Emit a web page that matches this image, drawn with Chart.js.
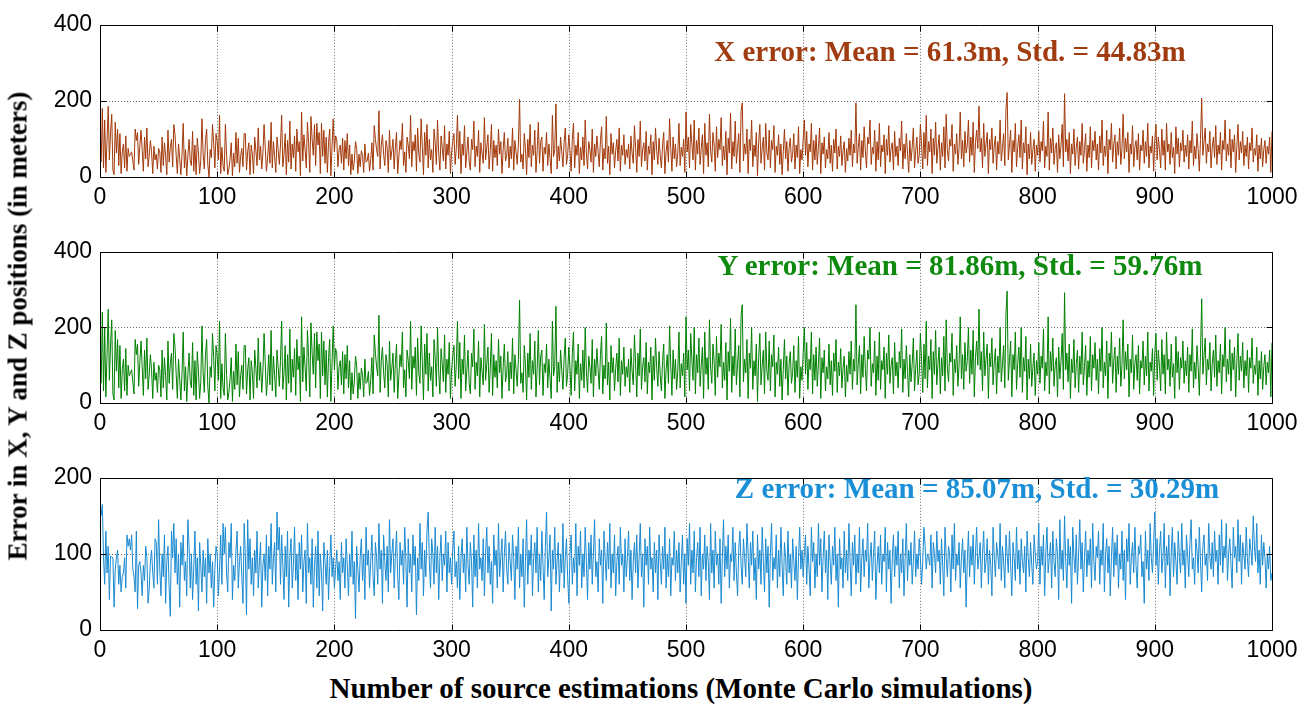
<!DOCTYPE html>
<html>
<head>
<meta charset="utf-8">
<script src="https://cdn.jsdelivr.net/npm/chart.js@4.4.0/dist/chart.umd.min.js"></script>
<style>
    body { margin: 0; background: #fff; }
    #wrap { position: relative; width: 1316px; height: 704px; overflow: hidden; background: #fff; }
    canvas { position: absolute; left: 0; }
    .note { position: absolute; font-family: "Liberation Serif", "Times New Roman", serif; font-weight: bold; font-size: 29px; white-space: nowrap; transform: translate(-50%, -50%); }
    .axis-title { position: absolute; font-family: "Liberation Serif", "Times New Roman", serif; font-weight: bold; white-space: nowrap; color: #000; }
</style>
</head>
<body>
<div id="wrap">
    <canvas id="chartX" width="1316" height="214" style="top:3px"></canvas>
    <canvas id="chartY" width="1316" height="213" style="top:230px"></canvas>
    <canvas id="chartZ" width="1316" height="214" style="top:456px"></canvas>
    <div class="note" style="left:950px; top:51px; color:#a13c10;">X error: Mean = 61.3m, Std. = 44.83m</div>
    <div class="note" style="left:960px; top:265px; color:#0e8a0e;">Y error: Mean = 81.86m, Std. = 59.76m</div>
    <div class="note" style="left:977px; top:488px; color:#1b8fd6;">Z error: Mean = 85.07m, Std. = 30.29m</div>
    <div class="axis-title" style="left:18px; top:326px; font-size:27px; transform: translate(-50%, -50%) rotate(-90deg);">Error in X, Y and Z positions (in meters)</div>
    <div class="axis-title" style="left:681px; top:688px; font-size:29px; transform: translate(-50%, -50%);">Number of source estimations (Monte Carlo simulations)</div>
</div>
<script>
// tick labels //
var xTicks = [0, 100, 200, 300, 400, 500, 600, 700, 800, 900, 1000];
var yTicksXY = [0, 200, 400];
var yTicksZ = [0, 100, 200];

// X error per run (m) //
var xErr = [
    39, 180, 24, 150, 12, 96, 186, 45, 117, 165, 18, 6, 144, 63, 126, 30, 114, 9, 66, 87, 24, 108, 15, 75, 54, 60, 66, 42, 18, 126, 96, 117, 33, 81, 123, 72, 15, 105, 48, 129, 27, 57, 96, 66, 9, 81, 45, 60, 21, 75,
    66, 12, 105, 30, 90, 54, 6, 123, 39, 78, 99, 27, 138, 111, 57, 9, 87, 48, 6, 60, 141, 24, 72, 3, 57, 99, 42, 30, 120, 15, 84, 6, 102, 63, 9, 42, 153, 60, 21, 96, 126, 33, 0, 72, 51, 138, 90, 24, 114, 93,
    45, 162, 9, 78, 30, 15, 138, 57, 6, 21, 48, 90, 3, 63, 27, 117, 36, 102, 12, 54, 75, 27, 114, 114, 18, 66, 90, 6, 84, 60, 9, 105, 69, 30, 129, 45, 81, 21, 63, 138, 78, 15, 51, 96, 36, 144, 24, 93, 54, 12,
    105, 72, 33, 84, 162, 27, 60, 114, 6, 96, 39, 147, 21, 87, 51, 108, 15, 126, 66, 93, 3, 171, 42, 111, 72, 24, 144, 90, 12, 159, 99, 57, 138, 30, 141, 84, 117, 9, 141, 54, 123, 36, 105, 12, 90, 126, 3, 81, 153, 66,
    108, 99, 27, 72, 84, 36, 102, 18, 96, 48, 114, 30, 84, 6, 60, 18, 42, 93, 75, 9, 60, 27, 69, 57, 12, 87, 39, 42, 63, 15, 45, 90, 18, 135, 99, 72, 54, 174, 21, 84, 111, 60, 30, 96, 78, 12, 123, 45, 69, 99,
    21, 78, 117, 9, 54, 96, 72, 141, 30, 66, 12, 105, 84, 48, 162, 27, 93, 69, 111, 15, 129, 60, 39, 153, 81, 6, 117, 57, 138, 24, 99, 45, 72, 12, 126, 90, 33, 150, 63, 18, 108, 78, 42, 135, 21, 87, 57, 120, 9, 66,
    93, 114, 33, 75, 162, 48, 120, 9, 87, 57, 135, 24, 66, 105, 39, 18, 99, 72, 147, 27, 81, 54, 123, 12, 90, 63, 36, 156, 45, 78, 111, 21, 69, 138, 15, 96, 51, 84, 30, 126, 60, 93, 9, 72, 117, 42, 57, 102, 24, 81,
    48, 129, 18, 96, 66, 33, 87, 204, 39, 60, 21, 114, 75, 6, 99, 51, 138, 27, 84, 57, 123, 12, 69, 144, 36, 93, 105, 15, 78, 60, 117, 30, 87, 48, 9, 162, 54, 72, 192, 21, 81, 42, 105, 66, 27, 90, 129, 33, 57, 111,
    69, 15, 99, 141, 24, 84, 57, 117, 9, 78, 45, 105, 30, 150, 63, 21, 93, 72, 39, 126, 12, 87, 54, 108, 66, 27, 96, 132, 18, 75, 48, 159, 36, 81, 6, 114, 60, 90, 24, 69, 99, 42, 129, 15, 84, 57, 111, 33, 72, 51,
    87, 21, 108, 63, 36, 135, 78, 12, 99, 54, 147, 27, 72, 90, 42, 120, 18, 81, 60, 111, 6, 93, 45, 129, 69, 33, 102, 57, 24, 84, 117, 9, 66, 96, 39, 153, 75, 15, 105, 48, 87, 27, 63, 141, 30, 78, 54, 99, 12, 171,
    66, 105, 24, 138, 87, 45, 150, 18, 96, 60, 129, 33, 75, 111, 9, 141, 57, 90, 27, 165, 69, 39, 117, 84, 15, 132, 51, 99, 72, 156, 30, 81, 45, 120, 6, 102, 63, 168, 21, 93, 54, 147, 36, 78, 114, 12, 174, 195, 42, 87,
    60, 126, 9, 99, 69, 150, 27, 84, 54, 117, 3, 90, 138, 36, 75, 105, 18, 141, 63, 45, 123, 24, 96, 72, 135, 12, 81, 57, 111, 33, 87, 6, 66, 126, 48, 93, 15, 78, 102, 39, 60, 114, 21, 84, 51, 132, 9, 72, 45, 99,
    150, 57, 120, 27, 87, 66, 141, 18, 96, 45, 111, 33, 78, 129, 9, 90, 60, 105, 24, 72, 48, 117, 36, 84, 15, 99, 63, 126, 21, 81, 54, 108, 30, 69, 93, 12, 75, 42, 102, 57, 123, 27, 87, 63, 195, 36, 78, 114, 18, 96,
    51, 132, 69, 24, 105, 87, 150, 33, 78, 60, 123, 15, 93, 45, 141, 27, 84, 66, 111, 9, 99, 57, 135, 39, 75, 90, 18, 120, 54, 81, 30, 102, 69, 147, 21, 87, 48, 114, 63, 12, 96, 42, 78, 129, 24, 69, 105, 36, 57, 138,
    84, 21, 117, 48, 162, 30, 93, 66, 126, 9, 102, 57, 144, 36, 78, 111, 18, 90, 54, 132, 24, 165, 69, 42, 99, 81, 138, 15, 87, 60, 114, 33, 75, 171, 48, 96, 27, 120, 63, 84, 150, 39, 105, 57, 144, 12, 90, 123, 75, 186,
    66, 102, 24, 141, 54, 87, 117, 9, 99, 72, 129, 36, 81, 108, 18, 93, 60, 150, 42, 75, 114, 30, 177, 222, 45, 84, 123, 12, 96, 66, 141, 27, 78, 111, 51, 150, 21, 90, 63, 132, 6, 87, 48, 117, 33, 72, 99, 15, 84, 57,
    120, 39, 93, 69, 147, 24, 81, 54, 171, 18, 102, 63, 129, 33, 75, 90, 12, 111, 48, 84, 138, 27, 219, 66, 99, 42, 117, 9, 87, 60, 126, 30, 78, 105, 21, 93, 57, 141, 36, 72, 114, 15, 84, 51, 132, 24, 96, 69, 120, 45,
    87, 18, 108, 63, 150, 30, 81, 54, 123, 9, 99, 72, 141, 39, 84, 111, 21, 93, 57, 129, 33, 75, 165, 48, 102, 66, 117, 12, 87, 60, 135, 27, 78, 96, 45, 114, 18, 84, 69, 123, 36, 93, 54, 141, 24, 81, 63, 108, 15, 99,
    138, 45, 105, 72, 24, 126, 57, 96, 18, 141, 66, 87, 33, 117, 51, 78, 9, 132, 60, 102, 27, 90, 69, 123, 39, 84, 54, 111, 21, 96, 63, 147, 30, 81, 48, 114, 72, 15, 99, 207, 57, 93, 129, 36, 87, 66, 120, 24, 78, 105,
    51, 135, 33, 84, 60, 117, 18, 96, 72, 150, 42, 87, 57, 126, 24, 99, 66, 111, 12, 81, 138, 45, 93, 63, 120, 30, 84, 54, 105, 21, 90, 69, 129, 39, 75, 57, 111, 15, 84, 48, 102, 27, 72, 96, 36, 81, 60, 105, 12, 120
];

// Y error per run (m) //
var yErr = [
    52, 240, 32, 200, 16, 128, 248, 60, 156, 220, 24, 8, 192, 84, 168, 40, 152, 12, 88, 116, 32, 144, 20, 100, 72, 80, 88, 56, 24, 168, 128, 156, 44, 108, 164, 96, 20, 140, 64, 172, 36, 76, 128, 88, 12, 108, 60, 80, 28, 100,
    88, 16, 140, 40, 120, 72, 8, 164, 52, 104, 132, 36, 184, 148, 76, 12, 116, 64, 8, 80, 188, 32, 96, 4, 76, 132, 56, 40, 160, 20, 112, 8, 136, 84, 12, 56, 204, 80, 28, 128, 168, 44, 0, 96, 68, 184, 120, 32, 152, 124,
    60, 216, 12, 104, 40, 20, 184, 76, 8, 28, 64, 120, 4, 84, 36, 156, 48, 136, 16, 72, 100, 36, 152, 152, 24, 88, 120, 8, 112, 80, 12, 140, 92, 40, 172, 60, 108, 28, 84, 184, 104, 20, 68, 128, 48, 192, 32, 124, 72, 16,
    140, 96, 44, 112, 216, 36, 80, 152, 8, 128, 52, 196, 28, 116, 68, 144, 20, 168, 88, 124, 4, 228, 56, 148, 96, 32, 192, 120, 16, 212, 132, 76, 184, 40, 188, 112, 156, 12, 188, 72, 164, 48, 140, 16, 120, 168, 4, 108, 204, 88,
    144, 132, 36, 96, 112, 48, 136, 24, 128, 64, 152, 40, 112, 8, 80, 24, 56, 124, 100, 12, 80, 36, 92, 76, 16, 116, 52, 56, 84, 20, 60, 120, 24, 180, 132, 96, 72, 232, 28, 112, 148, 80, 40, 128, 104, 16, 164, 60, 92, 132,
    28, 104, 156, 12, 72, 128, 96, 188, 40, 88, 16, 140, 112, 64, 216, 36, 124, 92, 148, 20, 172, 80, 52, 204, 108, 8, 156, 76, 184, 32, 132, 60, 96, 16, 168, 120, 44, 200, 84, 24, 144, 104, 56, 180, 28, 116, 76, 160, 12, 88,
    124, 152, 44, 100, 216, 64, 160, 12, 116, 76, 180, 32, 88, 140, 52, 24, 132, 96, 196, 36, 108, 72, 164, 16, 120, 84, 48, 208, 60, 104, 148, 28, 92, 184, 20, 128, 68, 112, 40, 168, 80, 124, 12, 96, 156, 56, 76, 136, 32, 108,
    64, 172, 24, 128, 88, 44, 116, 272, 52, 80, 28, 152, 100, 8, 132, 68, 184, 36, 112, 76, 164, 16, 92, 192, 48, 124, 140, 20, 104, 80, 156, 40, 116, 64, 12, 216, 72, 96, 256, 28, 108, 56, 140, 88, 36, 120, 172, 44, 76, 148,
    92, 20, 132, 188, 32, 112, 76, 156, 12, 104, 60, 140, 40, 200, 84, 28, 124, 96, 52, 168, 16, 116, 72, 144, 88, 36, 128, 176, 24, 100, 64, 212, 48, 108, 8, 152, 80, 120, 32, 92, 132, 56, 172, 20, 112, 76, 148, 44, 96, 68,
    116, 28, 144, 84, 48, 180, 104, 16, 132, 72, 196, 36, 96, 120, 56, 160, 24, 108, 80, 148, 8, 124, 60, 172, 92, 44, 136, 76, 32, 112, 156, 12, 88, 128, 52, 204, 100, 20, 140, 64, 116, 36, 84, 188, 40, 104, 72, 132, 16, 228,
    88, 140, 32, 184, 116, 60, 200, 24, 128, 80, 172, 44, 100, 148, 12, 188, 76, 120, 36, 220, 92, 52, 156, 112, 20, 176, 68, 132, 96, 208, 40, 108, 60, 160, 8, 136, 84, 224, 28, 124, 72, 196, 48, 104, 152, 16, 232, 260, 56, 116,
    80, 168, 12, 132, 92, 200, 36, 112, 72, 156, 4, 120, 184, 48, 100, 140, 24, 188, 84, 60, 164, 32, 128, 96, 180, 16, 108, 76, 148, 44, 116, 8, 88, 168, 64, 124, 20, 104, 136, 52, 80, 152, 28, 112, 68, 176, 12, 96, 60, 132,
    200, 76, 160, 36, 116, 88, 188, 24, 128, 60, 148, 44, 104, 172, 12, 120, 80, 140, 32, 96, 64, 156, 48, 112, 20, 132, 84, 168, 28, 108, 72, 144, 40, 92, 124, 16, 100, 56, 136, 76, 164, 36, 116, 84, 260, 48, 104, 152, 24, 128,
    68, 176, 92, 32, 140, 116, 200, 44, 104, 80, 164, 20, 124, 60, 188, 36, 112, 88, 148, 12, 132, 76, 180, 52, 100, 120, 24, 160, 72, 108, 40, 136, 92, 196, 28, 116, 64, 152, 84, 16, 128, 56, 104, 172, 32, 92, 140, 48, 76, 184,
    112, 28, 156, 64, 216, 40, 124, 88, 168, 12, 136, 76, 192, 48, 104, 148, 24, 120, 72, 176, 32, 220, 92, 56, 132, 108, 184, 20, 116, 80, 152, 44, 100, 228, 64, 128, 36, 160, 84, 112, 200, 52, 140, 76, 192, 16, 120, 164, 100, 248,
    88, 136, 32, 188, 72, 116, 156, 12, 132, 96, 172, 48, 108, 144, 24, 124, 80, 200, 56, 100, 152, 40, 236, 296, 60, 112, 164, 16, 128, 88, 188, 36, 104, 148, 68, 200, 28, 120, 84, 176, 8, 116, 64, 156, 44, 96, 132, 20, 112, 76,
    160, 52, 124, 92, 196, 32, 108, 72, 228, 24, 136, 84, 172, 44, 100, 120, 16, 148, 64, 112, 184, 36, 292, 88, 132, 56, 156, 12, 116, 80, 168, 40, 104, 140, 28, 124, 76, 188, 48, 96, 152, 20, 112, 68, 176, 32, 128, 92, 160, 60,
    116, 24, 144, 84, 200, 40, 108, 72, 164, 12, 132, 96, 188, 52, 112, 148, 28, 124, 76, 172, 44, 100, 220, 64, 136, 88, 156, 16, 116, 80, 180, 36, 104, 128, 60, 152, 24, 112, 92, 164, 48, 124, 72, 188, 32, 108, 84, 144, 20, 132,
    184, 60, 140, 96, 32, 168, 76, 128, 24, 188, 88, 116, 44, 156, 68, 104, 12, 176, 80, 136, 36, 120, 92, 164, 52, 112, 72, 148, 28, 128, 84, 196, 40, 108, 64, 152, 96, 20, 132, 276, 76, 124, 172, 48, 116, 88, 160, 32, 104, 140,
    68, 180, 44, 112, 80, 156, 24, 128, 96, 200, 56, 116, 76, 168, 32, 132, 88, 148, 16, 108, 184, 60, 124, 84, 160, 40, 112, 72, 140, 28, 120, 92, 172, 52, 100, 76, 148, 20, 112, 64, 136, 36, 96, 128, 48, 108, 80, 140, 16, 160
];

// Z error per run (m) //
var zErr = [
    150, 165, 95, 60, 130, 75, 110, 40, 97, 96, 95, 30, 80, 95, 105, 60, 85, 50, 70, 75, 95, 55, 125, 110, 120, 105, 125, 80, 70, 50, 130, 28, 85, 90, 75, 45, 85, 65, 110, 95, 35, 55, 90, 105, 75, 55, 120, 115, 60, 145,
    80, 45, 100, 70, 125, 35, 90, 110, 55, 18, 130, 95, 140, 75, 120, 60, 100, 30, 115, 85, 125, 65, 90, 45, 145, 110, 55, 100, 40, 80, 130, 60, 95, 25, 115, 85, 50, 105, 70, 95, 35, 120, 75, 100, 55, 90, 30, 80, 110, 100,
    45, 80, 125, 60, 140, 100, 135, 75, 50, 115, 95, 140, 40, 85, 65, 105, 130, 55, 90, 110, 70, 35, 140, 100, 20, 145, 80, 120, 60, 95, 45, 105, 75, 130, 55, 90, 115, 30, 85, 100, 65, 125, 45, 110, 80, 140, 60, 95, 115, 50,
    155, 105, 135, 60, 125, 85, 40, 110, 70, 130, 30, 95, 120, 55, 85, 135, 65, 100, 40, 115, 80, 125, 50, 90, 105, 35, 140, 75, 95, 60, 120, 30, 85, 110, 55, 130, 45, 100, 75, 25, 115, 90, 60, 105, 40, 85, 125, 70, 95, 55,
    80, 105, 65, 90, 40, 115, 75, 95, 55, 120, 85, 45, 100, 70, 130, 60, 90, 15, 110, 80, 50, 95, 120, 65, 100, 40, 135, 85, 105, 55, 90, 125, 70, 45, 115, 95, 60, 140, 80, 105, 35, 125, 90, 65, 110, 50, 145, 75, 100, 120,
    55, 95, 130, 70, 40, 115, 85, 105, 60, 135, 90, 30, 120, 75, 100, 50, 125, 85, 110, 20, 95, 65, 140, 80, 115, 45, 105, 70, 130, 155, 90, 55, 120, 100, 60, 135, 75, 110, 40, 95, 125, 65, 100, 85, 130, 50, 115, 75, 95, 60,
    105, 130, 70, 90, 55, 110, 40, 95, 120, 75, 100, 50, 135, 85, 60, 115, 90, 30, 125, 70, 105, 55, 140, 80, 95, 65, 120, 45, 100, 135, 75, 110, 60, 90, 35, 125, 85, 105, 55, 140, 70, 95, 120, 50, 100, 130, 80, 60, 115, 90,
    65, 125, 95, 40, 110, 80, 135, 55, 100, 70, 120, 30, 90, 145, 60, 105, 85, 125, 45, 95, 115, 75, 135, 50, 100, 65, 130, 85, 40, 110, 155, 70, 95, 125, 25, 105, 80, 135, 60, 90, 115, 50, 100, 75, 140, 55, 95, 120, 70, 35,
    100, 125, 60, 95, 75, 140, 45, 110, 85, 130, 55, 100, 70, 135, 90, 40, 115, 80, 125, 60, 100, 145, 70, 90, 50, 120, 85, 105, 35, 130, 95, 65, 115, 80, 140, 55, 100, 75, 125, 45, 90, 110, 60, 135, 85, 100, 50, 120, 70, 95,
    130, 65, 105, 40, 90, 115, 75, 125, 55, 95, 140, 70, 100, 30, 120, 85, 110, 60, 135, 80, 95, 50, 115, 75, 105, 40, 125, 90, 60, 110, 80, 135, 55, 100, 70, 120, 45, 95, 85, 130, 65, 105, 75, 115, 50, 90, 125, 60, 100, 35,
    120, 85, 140, 60, 105, 75, 130, 50, 95, 115, 70, 135, 45, 100, 80, 125, 65, 110, 90, 40, 140, 75, 105, 55, 130, 85, 100, 60, 120, 35, 95, 145, 70, 110, 80, 125, 55, 100, 90, 135, 65, 115, 75, 45, 105, 130, 85, 60, 120, 95,
    70, 140, 100, 55, 115, 85, 130, 65, 95, 40, 125, 80, 105, 60, 135, 90, 50, 120, 75, 110, 30, 100, 140, 65, 95, 80, 125, 55, 105, 70, 135, 85, 45, 115, 95, 60, 130, 75, 100, 55, 120, 90, 65, 110, 40, 95, 135, 80, 105, 70,
    100, 125, 60, 110, 80, 45, 135, 90, 115, 55, 100, 70, 140, 85, 120, 50, 95, 130, 75, 105, 40, 125, 90, 60, 110, 85, 135, 65, 100, 30, 120, 80, 95, 55, 130, 75, 105, 65, 140, 90, 45, 115, 85, 125, 60, 100, 75, 135, 50, 95,
    120, 70, 105, 90, 140, 55, 95, 115, 65, 100, 130, 40, 85, 110, 75, 125, 60, 100, 90, 135, 50, 115, 80, 105, 35, 95, 125, 70, 110, 85, 130, 55, 100, 75, 120, 45, 95, 140, 65, 105, 85, 115, 60, 90, 130, 70, 100, 80, 120, 95,
    60, 90, 135, 110, 80, 100, 95, 85, 125, 55, 115, 100, 75, 130, 90, 105, 60, 120, 85, 45, 135, 95, 70, 110, 100, 50, 125, 80, 140, 65, 100, 85, 115, 55, 95, 120, 75, 105, 30, 90, 130, 70, 110, 85, 125, 60, 100, 135, 80, 95,
    115, 55, 100, 130, 75, 90, 120, 60, 105, 85, 45, 135, 95, 70, 115, 100, 80, 140, 65, 110, 90, 55, 125, 100, 75, 130, 85, 45, 115, 95, 65, 135, 80, 105, 60, 120, 90, 75, 110, 50, 130, 95, 70, 115, 85, 60, 125, 100, 80, 90,
    140, 60, 110, 85, 125, 45, 100, 135, 75, 95, 115, 55, 130, 90, 70, 120, 100, 40, 145, 80, 105, 65, 150, 90, 55, 120, 85, 110, 35, 135, 95, 75, 125, 60, 100, 145, 80, 115, 50, 95, 130, 70, 105, 85, 120, 55, 140, 90, 65, 110,
    95, 130, 60, 105, 85, 140, 50, 100, 120, 75, 110, 45, 95, 135, 70, 115, 85, 125, 55, 100, 80, 130, 65, 105, 40, 120, 90, 140, 60, 95, 115, 75, 135, 85, 55, 110, 100, 125, 70, 90, 35, 130, 80, 105, 65, 140, 95, 75, 115, 155,
    85, 120, 60, 105, 130, 75, 95, 140, 55, 110, 85, 125, 45, 100, 135, 70, 115, 90, 60, 130, 95, 75, 140, 85, 105, 55, 125, 100, 70, 115, 145, 80, 95, 60, 120, 105, 75, 135, 90, 50, 110, 125, 85, 100, 65, 140, 95, 80, 115, 70,
    130, 90, 105, 60, 125, 85, 145, 75, 110, 95, 140, 65, 100, 120, 85, 55, 135, 95, 110, 75, 145, 90, 125, 60, 115, 100, 80, 135, 95, 70, 120, 105, 85, 150, 110, 90, 140, 75, 105, 60, 125, 85, 115, 95, 55, 100, 80, 110, 65, 75
];

// run number 1..1000 //
var runs = [];
for (var i = 1; i <= xErr.length; i++) {
    runs.push(i);
}

var tickFont = { family: "'Liberation Sans', Arial, sans-serif", size: 23 };

// grid lines, box and inward tick marks //
var matlabFrame = {
    id: 'matlabFrame',
    beforeDatasetsDraw: function (chart) {
        var ctx = chart.ctx, a = chart.chartArea, sx = chart.scales.x, sy = chart.scales.y;
        ctx.save();
        ctx.strokeStyle = '#6e6e6e';
        ctx.lineWidth = 1;
        ctx.setLineDash([1, 2]);
        ctx.beginPath();
        sx.ticks.forEach(function (t) {
            if (t.value > sx.min && t.value < sx.max) {
                var px = Math.round(sx.getPixelForValue(t.value)) + 0.5;
                ctx.moveTo(px, a.top);
                ctx.lineTo(px, a.bottom);
            }
        });
        sy.ticks.forEach(function (t) {
            if (t.value > sy.min && t.value < sy.max) {
                var py = Math.round(sy.getPixelForValue(t.value)) + 0.5;
                ctx.moveTo(a.left, py);
                ctx.lineTo(a.right, py);
            }
        });
        ctx.stroke();
        ctx.restore();
    },
    afterDatasetsDraw: function (chart) {
        var ctx = chart.ctx, a = chart.chartArea, sx = chart.scales.x, sy = chart.scales.y;
        var l = Math.round(a.left) + 0.5, r = Math.round(a.right) + 0.5;
        var t = Math.round(a.top) + 0.5, b = Math.round(a.bottom) + 0.5;
        ctx.save();
        ctx.strokeStyle = '#000';
        ctx.lineWidth = 1;
        ctx.beginPath();
        ctx.rect(l, t, r - l, b - t);
        sx.ticks.forEach(function (tk) {
            var px = Math.round(sx.getPixelForValue(tk.value)) + 0.5;
            ctx.moveTo(px, b); ctx.lineTo(px, b - 6);
            ctx.moveTo(px, t); ctx.lineTo(px, t + 6);
        });
        sy.ticks.forEach(function (tk) {
            var py = Math.round(sy.getPixelForValue(tk.value)) + 0.5;
            ctx.moveTo(l, py); ctx.lineTo(l + 6, py);
            ctx.moveTo(r, py); ctx.lineTo(r - 6, py);
        });
        ctx.stroke();
        ctx.restore();
    }
};

function plainLabel(value) {
    return String(value);
}

function makePanel(id, values, color, yTicks) {
    var points = values.map(function (v, i) {
        return { x: runs[i], y: v };
    });
    var ctx = document.getElementById(id).getContext('2d');
    return new Chart(ctx, {
        type: 'line',
        data: {
            datasets: [{
                data: points,
                borderColor: color,
                borderWidth: 1,
                pointRadius: 0,
                tension: 0,
                fill: false
            }]
        },
        options: {
            responsive: false,
            animation: false,
            devicePixelRatio: 1,
            layout: { padding: { top: 12, right: 44, left: 0, bottom: 0 } },
            plugins: { legend: { display: false }, tooltip: { enabled: false } },
            scales: {
                x: {
                    type: 'linear',
                    min: xTicks[0],
                    max: xTicks[xTicks.length - 1],
                    afterBuildTicks: function (s) {
                        s.ticks = xTicks.map(function (v) { return { value: v }; });
                    },
                    afterFit: function (s) { s.height = 40; },
                    grid: { display: false, drawTicks: false },
                    border: { display: false },
                    ticks: { font: tickFont, color: '#000', padding: 7, maxRotation: 0, autoSkip: false, callback: plainLabel }
                },
                y: {
                    type: 'linear',
                    min: yTicks[0],
                    max: yTicks[yTicks.length - 1],
                    afterBuildTicks: function (s) {
                        s.ticks = yTicks.map(function (v) { return { value: v }; });
                    },
                    afterFit: function (s) { s.width = 100; },
                    grid: { display: false, drawTicks: false },
                    border: { display: false },
                    ticks: { font: tickFont, color: '#000', padding: 8, autoSkip: false, callback: plainLabel }
                }
            }
        },
        plugins: [matlabFrame]
    });
}

makePanel('chartX', xErr, '#a2390a', yTicksXY);
makePanel('chartY', yErr, '#008000', yTicksXY);
makePanel('chartZ', zErr, '#1b8ad0', yTicksZ);
</script>
</body>
</html>
